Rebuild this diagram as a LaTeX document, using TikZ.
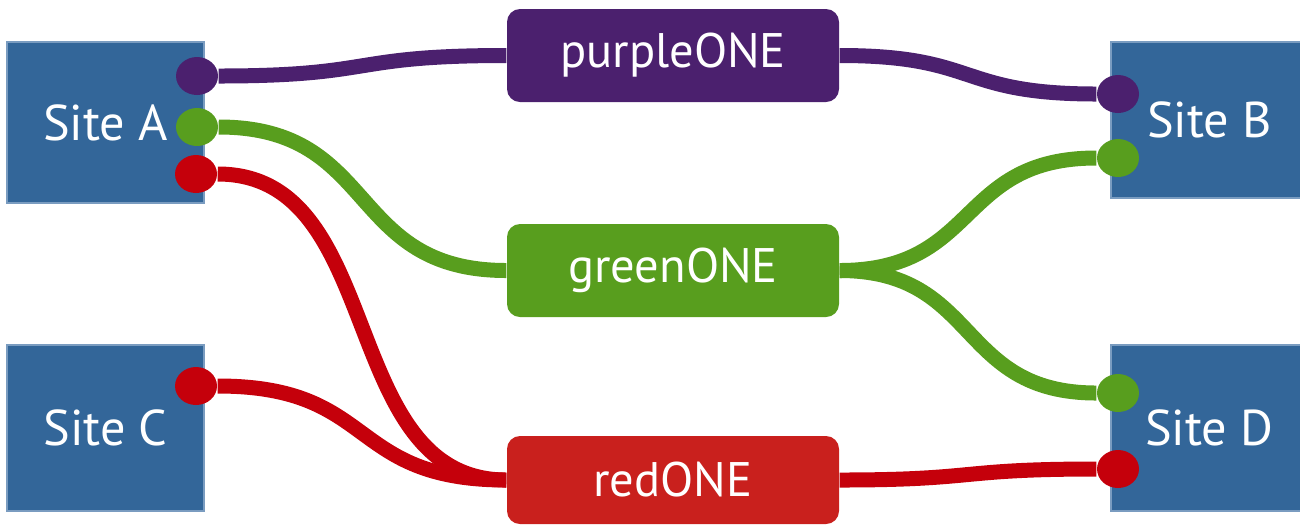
\documentclass[tikz,border=0pt]{standalone}
\usepackage{fontspec}
\setmainfont{PT Sans}
\usetikzlibrary{shapes.geometric}

\definecolor{siteblue}{HTML}{336699}
\definecolor{siteedge}{HTML}{7A9CC0}
\definecolor{purpleone}{HTML}{4B206E}
\definecolor{greenone}{HTML}{589E1E}
\definecolor{redbox}{HTML}{C9201D}
\definecolor{redline}{HTML}{C5000B}

\tikzset{
	site/.style={rectangle, fill=siteblue, draw=siteedge, line width=0.4pt, text=white,
		font=\fontsize{14.3}{17}\selectfont, inner sep=0pt, minimum width=1.97cm},
	ring/.style={rectangle, rounded corners=0.13cm, minimum width=3.32cm, text=white,
		font=\fontsize{13.8}{17}\selectfont, inner sep=0pt},
	port/.style={ellipse, minimum width=0.42cm, minimum height=0.38cm, inner sep=0pt, fill=#1},
	wire/.style={line width=0.15cm, color=#1},
}

\begin{document}
\begin{tikzpicture}
			%%%%% START %%%%%
			\useasboundingbox (0, 0) rectangle (13, 5.27);
			
			% sites
			\node[site, minimum height=1.61cm] (siteA) at (1.055, 4.045) {Site A};
			\node[site, minimum height=1.56cm] (siteB) at (12.095, 4.07) {Site B};
			\node[site, minimum height=1.66cm] (siteC) at (1.055, 0.99) {Site C};
			\node[site, minimum height=1.66cm] (siteD) at (12.095, 0.99) {Site D};
			
			% rings
			\node[ring, fill=purpleone, minimum height=0.93cm] (purpleONE) at (6.73, 4.715) {purpleONE};
			\node[ring, fill=greenone, minimum height=0.93cm] (greenONE) at (6.73, 2.565) {greenONE};
			\node[ring, fill=redbox, minimum height=0.88cm] (redONE) at (6.73, 0.47) {redONE};
			
			% ports
			\node[port=purpleone] (pA1) at (1.97, 4.51) {};
			\node[port=greenone] (pA2) at (1.97, 4.00) {};
			\node[port=redline] (pA3) at (1.96, 3.53) {};
			\node[port=purpleone] (pB1) at (11.18, 4.33) {};
			\node[port=greenone] (pB2) at (11.18, 3.69) {};
			\node[port=redline] (pC1) at (1.96, 1.41) {};
			\node[port=greenone] (pD1) at (11.18, 1.34) {};
			\node[port=redline] (pD2) at (11.18, 0.58) {};
			
			% purple
			\draw[wire=purpleone] (pA1.east) .. controls +(1.6, 0) and +(-1.6, 0) .. (purpleONE.west);
			\draw[wire=purpleone] (purpleONE.east) .. controls +(1.4, 0) and +(-1.4, 0) .. (pB1.west);
			
			% green
			\draw[wire=greenone] (pA2.east) .. controls +(1.6, 0) and +(-1.6, 0) .. (greenONE.west);
			\draw[wire=greenone] (greenONE.east) .. controls +(1.4, 0) and +(-1.4, 0) .. (pB2.west);
			\draw[wire=greenone] (greenONE.east) .. controls +(1.4, 0) and +(-1.4, 0) .. (pD1.west);
			
			% red
			\draw[wire=redline] (pA3.east) .. controls +(1.7, 0) and +(-1.7, 0) .. (redONE.west);
			\draw[wire=redline] (pC1.east) .. controls +(1.6, 0) and +(-1.6, 0) .. (redONE.west);
			\draw[wire=redline] (redONE.east) .. controls +(1.4, 0) and +(-1.4, 0) .. (pD2.west);
			
			%%%%% END %%%%%
		\end{tikzpicture}
\end{document}
